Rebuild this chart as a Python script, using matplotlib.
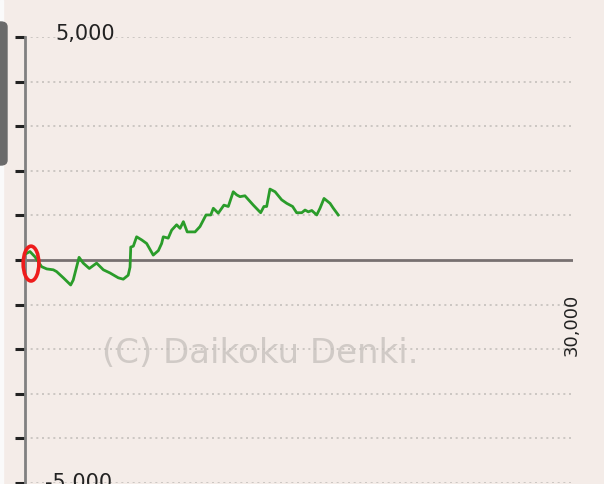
import matplotlib
matplotlib.use('Agg')
import matplotlib.pyplot as plt
from matplotlib.patches import Ellipse, FancyBboxPatch

# cumulative difference (medals) vs. games played
games = [90, 270, 550, 910, 1190, 1550, 1730, 2100, 2500, 2640, 2960, 3190, 3520,
         3920, 4290, 4650, 5110, 5380, 5650, 5750, 5790, 5930, 6110, 6390, 6660,
         7020, 7300, 7480, 7570, 7840, 8030, 8300, 8490, 8670, 8880, 9310, 9580,
         9910, 10170, 10310, 10580, 10890, 11130, 11400, 11590, 11770, 12040,
         12500, 12900, 13080, 13230, 13410, 13690, 14050, 14330, 14650, 14870,
         15150, 15330, 15510, 15700, 15970, 16150, 16370, 16700, 16880, 17150]
diff = [150, 190, 70, -150, -200, -220, -260, -400, -560, -450, 60, -70, -190,
        -70, -220, -290, -400, -430, -340, -160, 290, 310, 520, 450, 370,
        110, 210, 370, 520, 490, 670, 790, 710, 860, 630, 630, 750,
        1010, 1010, 1160, 1050, 1230, 1200, 1530, 1460, 1420, 1440,
        1230, 1060, 1200, 1200, 1590, 1530, 1350, 1270, 1200, 1060,
        1060, 1120, 1080, 1110, 1010, 1160, 1380, 1270, 1160, 1010]

y_ticks = list(range(-5000, 5001, 1000))
x_max = 30000
bg = '#f4ece8'

fig = plt.figure(figsize=(6.04, 4.84), dpi=100, facecolor=bg)
ax = fig.add_axes([25 / 604, 1 - 483 / 484, 548 / 604, 446 / 484])
ax.set_facecolor(bg)
ax.set_xlim(0, x_max)
ax.set_ylim(-5000, 5000)

for s in ['top', 'right', 'bottom']:
    ax.spines[s].set_visible(False)
ax.spines['left'].set_color('#808080')
ax.spines['left'].set_linewidth(2)

ax.set_yticks(y_ticks)
ax.set_yticklabels([])
ax.tick_params(axis='y', direction='out', length=7, width=2.2, color='#222222')
ax.set_xticks([])

for yv in y_ticks:
    if yv != 0:
        ax.axhline(yv, color='#c4c0bc', linestyle=(0, (1.2, 2.2)), linewidth=1.2, zorder=1)
ax.axhline(0, color='#777070', linewidth=2, zorder=2)

ax.plot(games, diff, color='#2a9c2a', linewidth=2, zorder=3)

ax.annotate('5,000', (1650, 5000), xytext=(0, 2), textcoords='offset points',
            fontsize=15, color='#222222', ha='left', va='center', annotation_clip=False)
ax.annotate('-5,000', (1100, -5000), xytext=(0, 0), textcoords='offset points',
            fontsize=15, color='#222222', ha='left', va='center', annotation_clip=False)
ax.text(x_max - 50, -1450, '30,000', fontsize=13, color='#222222', rotation=90,
        ha='center', va='center')

ax.text(12900, -2100, '(C) Daikoku Denki.', fontsize=24.5, color='#d0cac6',
        ha='center', va='center', zorder=0)

# red marker around start point
ax.add_patch(Ellipse((330, -80), 860, 780, fill=False, edgecolor='#ee1c1c',
                     linewidth=2.6, zorder=4, clip_on=False))

# cropped panel edge on the left
fig.patches.append(plt.Rectangle((0, 0), 3 / 604, 1, transform=fig.transFigure,
                                 color='#fafafa', zorder=0))
fig.patches.append(FancyBboxPatch((-6 / 604, 1 - 165 / 484), 13 / 604, 143 / 484,
                                  boxstyle='round,pad=0,rounding_size=0.01',
                                  transform=fig.transFigure, color='#6a6a6a', zorder=1))

fig.savefig('out.png', dpi=100, facecolor=bg)
